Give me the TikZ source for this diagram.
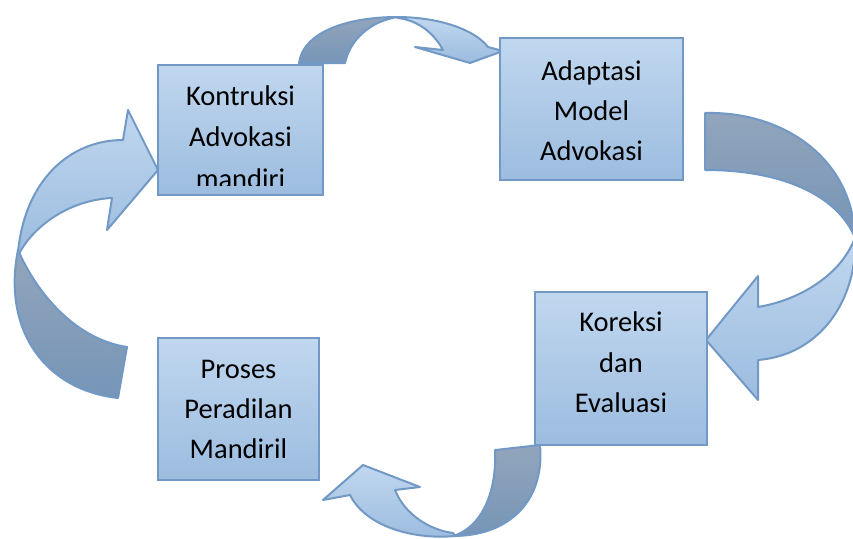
\documentclass[tikz,border=0pt]{standalone}
\usepackage{fontspec}
\setmainfont{Carlito}
\definecolor{boxtop}{RGB}{192,215,239}
\definecolor{boxbot}{RGB}{156,188,223}
\definecolor{backtop}{RGB}{146,165,188}
\definecolor{backbot}{RGB}{118,149,183}
\definecolor{edge}{RGB}{114,153,197}
\tikzset{
  box/.style={rectangle, draw=edge, line width=2pt, top color=boxtop,
    bottom color=boxbot, inner sep=0pt},
  face/.style={draw=edge, line width=2pt, line join=round, top color=boxtop,
    bottom color=boxbot},
  back/.style={draw=edge, line width=2pt, line join=round, top color=backtop,
    bottom color=backbot},
  lbl/.style={anchor=base, inner sep=0pt, text=black,
    font=\fontsize{28.5}{40}\selectfont}
}
\begin{document}
\begin{tikzpicture}[x=1pt, y=-1pt]
\useasboundingbox (0,0) rectangle (853,538);

% ---- curved arrow: Kontruksi -> Adaptasi (over the top)
\path[back] (299,63) .. controls (303,33) and (345,17) .. (398,17)
  .. controls (370,21) and (350,40) .. (345,63) -- cycle;
\path[face] (396,17) .. controls (440,17) and (475,30) .. (488,47)
  -- (503,51) -- (470,63) -- (415,47) -- (443,50)
  .. controls (432,30) and (415,20) .. (398,18) -- cycle;

% ---- curved arrow: Adaptasi -> Koreksi (down the right side)
\path[back] (705,113) .. controls (785,111) and (853,160) .. (855,238)
  .. controls (840,200) and (790,170) .. (705,170) -- cycle;
\path[face] (855,236) .. controls (858,300) and (820,355) .. (758,360)
  -- (758,400) -- (706,340) -- (758,276) -- (758,307)
  .. controls (800,300) and (840,275) .. (854,240) -- cycle;

% ---- curved arrow: Koreksi -> Proses (under the bottom)
\path[back] (495,450) -- (540,445) .. controls (545,500) and (510,536) .. (453,536)
  .. controls (480,528) and (497,495) .. (495,450) -- cycle;
\path[face] (455,536) .. controls (410,540) and (365,525) .. (350,495)
  -- (323,500) -- (363,465) -- (420,487) -- (395,490)
  .. controls (405,515) and (430,530) .. (453,533) -- cycle;

% ---- curved arrow: Proses -> Kontruksi (up the left side)
\path[back] (127,347) -- (118,398) .. controls (45,390) and (2,330) .. (18,250)
  .. controls (40,300) and (80,340) .. (127,347) -- cycle;
\path[face] (18,252) .. controls (25,180) and (70,140) .. (123,140)
  -- (128,110) -- (158,170) -- (107,230) -- (112,198)
  .. controls (70,200) and (35,225) .. (20,252) -- cycle;

% ---- boxes
\node[box, minimum width=165pt, minimum height=130pt] (kbox) at (240.5,130) {};
\node[box, minimum width=183pt, minimum height=142pt] (abox) at (591.5,109) {};
\node[box, minimum width=172pt, minimum height=153pt] (ebox) at (621,368.5) {};
\node[box, minimum width=161pt, minimum height=142pt] (pbox) at (238.5,409) {};

% ---- labels (the third line of the first box overflows and is cut off)
\begin{scope}
  \clip (159,66) rectangle (322,185);
  \node[lbl] (k1) at (240.5,105) {Kontruksi};
  \node[lbl] (k2) at (240.5,146) {Advokasi};
  \node[lbl] (k3) at (240.5,188) {mandiri};
\end{scope}

\node[lbl] (a1) at (591.5,80) {Adaptasi};
\node[lbl] (a2) at (591.5,120) {Model};
\node[lbl] (a3) at (591.5,160) {Advokasi};

\node[lbl] (e1) at (621,331) {Koreksi};
\node[lbl] (e2) at (621,372) {dan};
\node[lbl] (e3) at (621,412) {Evaluasi};

\node[lbl] (p1) at (238.5,378) {Proses};
\node[lbl] (p2) at (238.5,418) {Peradilan};
\node[lbl] (p3) at (238.5,458) {Mandiril};
\end{tikzpicture}
\end{document}
